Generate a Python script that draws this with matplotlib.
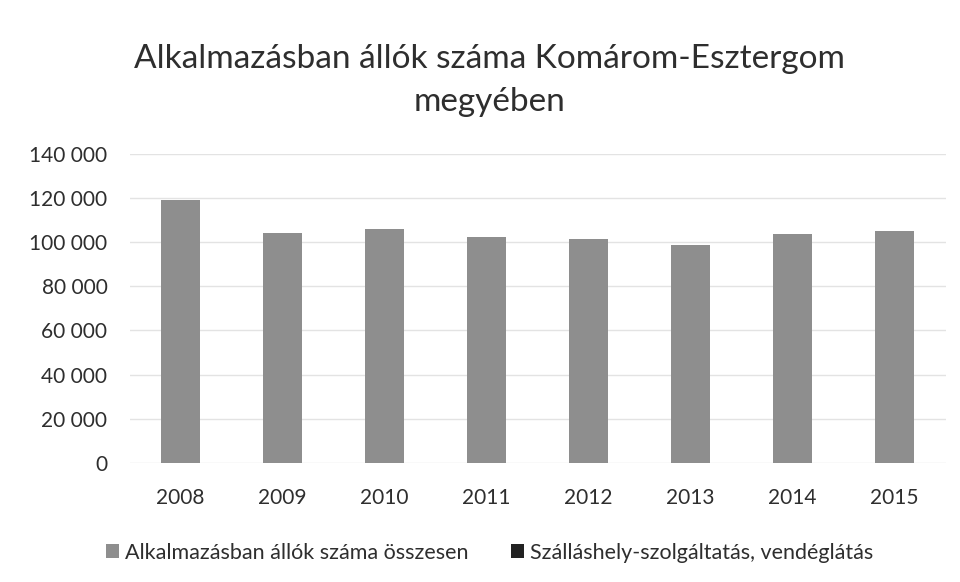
import numpy as np
import matplotlib.pyplot as plt
from matplotlib.ticker import FuncFormatter

years = ['2008', '2009', '2010', '2011', '2012', '2013', '2014', '2015']
total_employed = [119000, 104300, 106200, 102400, 101600, 99000, 103600, 105100]
hospitality = [0, 0, 0, 0, 0, 0, 0, 0]  # not visible on the scan

plt.rcParams['font.family'] = ['Lato', 'DejaVu Sans']

fig = plt.figure(figsize=(9.6, 5.82), dpi=100)
ax = fig.add_axes([0.135, 0.205, 0.85, 0.53])

x = np.arange(len(years))
ax.bar(x, total_employed, width=0.39, color='#8e8e8e',
       label='Alkalmazásban állók száma összesen', zorder=3)
ax.bar(x, hospitality, width=0.39, color='#222222', linewidth=0,
       label='Szálláshely-szolgáltatás, vendéglátás', zorder=3)

ax.set_ylim(0, 140000)
ax.set_yticks(np.arange(0, 140001, 20000))
ax.yaxis.set_major_formatter(FuncFormatter(lambda v, p: f'{int(v):,}'.replace(',', ' ')))
ax.set_xlim(-0.5, len(years) - 0.5)
ax.set_xticks(x)
ax.set_xticklabels(years)

ax.grid(axis='y', color='#e3e3e3', linewidth=1, zorder=0)
for s in ax.spines.values():
    s.set_visible(False)
ax.tick_params(length=0, labelsize=15, colors='#2e2e2e')
ax.tick_params(axis='x', pad=18)
ax.tick_params(axis='y', pad=16)

fig.suptitle('Alkalmazásban állók száma Komárom-Esztergom\nmegyében',
             fontsize=24, color='#2e2e2e', y=0.925, x=0.51, linespacing=1.55)

fig.legend(loc='lower center', bbox_to_anchor=(0.51, 0.0), ncol=2, frameon=False,
           fontsize=15.5, handlelength=0.6, handleheight=0.6, handletextpad=0.25,
           columnspacing=2.0, labelcolor='#2e2e2e')

fig.savefig('out.png', dpi=100)
